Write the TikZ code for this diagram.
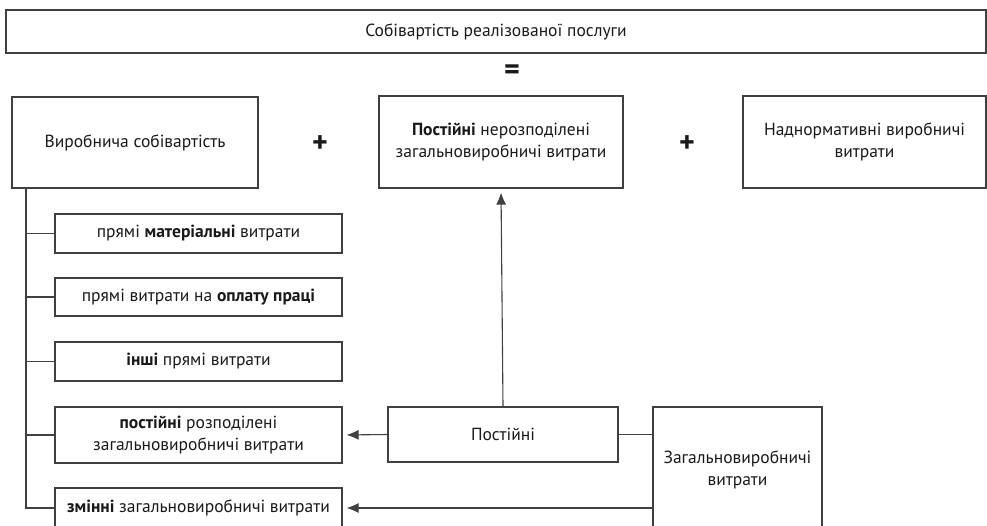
\documentclass[tikz,border=0pt]{standalone}
\usepackage{fontspec}
\setmainfont{PT Sans}
\usetikzlibrary{arrows.meta}

\begin{document}
\begin{tikzpicture}[x=1pt, y=-1pt, line width=1.1pt, color=black!75,
    box/.style={draw, text=black!90, align=center, inner sep=0pt,
        font=\fontsize{17.5}{22.5}\selectfont},
    sign/.style={text=black!90, font=\fontsize{30}{30}\selectfont\bfseries},
    arr/.style={-{Latex[length=12pt,width=10pt]}, shorten >=4pt}]
    \clip (0,0) rectangle (987,525);
    % top row
    \node[box, minimum width=980pt, minimum height=43pt] (sobiv) at (496,31.5) {Собівартість реалізованої послуги};
    \node[sign] (eq) at (512,72) {=};
    \node[box, minimum width=246pt, minimum height=91pt] (vyr) at (135,142.5) {Виробнича собівартість};
    \node[sign] (plus1) at (320,144) {+};
    \node[box, minimum width=244pt, minimum height=92pt] (nerozp) at (501,142) {\textbf{Постійні} нерозподілені\\загальновиробничі витрати};
    \node[sign] (plus2) at (687,144) {+};
    \node[box, minimum width=243pt, minimum height=92pt] (nadn) at (864.5,142) {Наднормативні виробничі\\витрати};
    % items of the production cost
    \node[box, minimum width=287pt, minimum height=39pt] (m1) at (198.5,233.5) {прямі \textbf{матеріальні} витрати};
    \node[box, minimum width=287pt, minimum height=38pt] (m2) at (198.5,297) {прямі витрати на \textbf{оплату праці}};
    \node[box, minimum width=287pt, minimum height=39pt] (m3) at (198.5,361.5) {\textbf{інші} прямі витрати};
    \node[box, minimum width=287pt, minimum height=56pt] (m4) at (198.5,435) {\textbf{постійні} розподілені\\загальновиробничі витрати};
    \node[box, minimum width=287pt, minimum height=40pt] (m5) at (198.5,508) {\textbf{змінні} загальновиробничі витрати};
    % overheads
    \node[box, minimum width=230pt, minimum height=55pt] (post) at (503,434.5) {Постійні};
    \node[box, minimum width=169pt, minimum height=126pt] (zag) at (737.5,470) {Загальновиробничі\\витрати};
    \coordinate (tr) at (26,0);
    \draw (vyr.south -| tr) |- (m5.west);
    \foreach \m in {m1,m2,m3,m4}
        \draw (\m.west -| tr) -- (\m.west);
    \draw[arr] (post.north) -- (nerozp.south);
    \draw[arr] (post.west) -- (m4.east);
    \draw (post.east) -- (zag.west |- post.east);
    \draw[arr] (zag.west |- m5.east) -- (m5.east);
\end{tikzpicture}
\end{document}
